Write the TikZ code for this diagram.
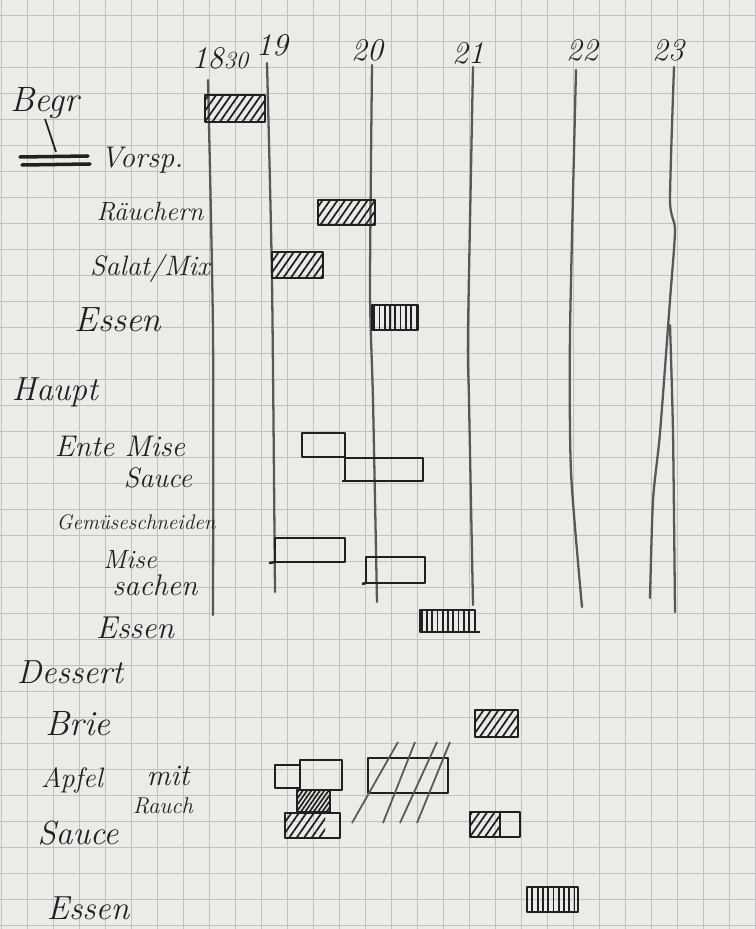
\documentclass[tikz,border=0pt]{standalone}
\usepackage{fontspec}
\usetikzlibrary{patterns.meta}

\definecolor{paper}{RGB}{236,235,232}
\definecolor{gridgray}{RGB}{192,192,190}
\definecolor{pencil}{RGB}{88,88,88}
\definecolor{ink}{RGB}{32,32,32}

\tikzset{
  hand/.style={font=\itshape\fontsize{#1}{#1}\selectfont, text=ink, inner sep=0pt},
  hand/.default=17,
  timeline/.style={draw=pencil, line width=1.3pt, line cap=round, line join=round},
  bar/.style={draw=ink, line width=1.4pt, line join=round},
  hatched/.style={bar, pattern={Lines[angle=55,distance=3.5pt,line width=1pt]}, pattern color=ink},
  combed/.style={bar, pattern={Lines[angle=90,distance=3pt,line width=1pt]}, pattern color=ink},
}

\begin{document}
\begin{tikzpicture}[x=0.02cm, y=-0.02cm]
  \fill[paper] (0,0) rectangle (755,929);
  \useasboundingbox (0,0) rectangle (755,929);

  % squared paper
  \foreach \gx in {1,27,...,755}
    {\draw[gridgray, line width=0.5pt] (\gx,0) -- (\gx,929);}
  \foreach \gy in {15,41,...,929}
    {\draw[gridgray, line width=0.5pt] (0,\gy) -- (755,\gy);}

  % hours
  \node[hand=18] (h1830) at (220,58) {18{\fontsize{14}{14}\selectfont 30}};
  \node[hand=18] (h19) at (272,45) {19};
  \node[hand=18] (h20) at (367,50) {20};
  \node[hand=18] (h21) at (468,53) {21};
  \node[hand=18] (h22) at (582,50) {22};
  \node[hand=18] (h23) at (668,50) {23};

  \draw[timeline] plot[smooth, tension=0.4] coordinates {(208,80) (213,333) (213,615)};
  \draw[timeline] plot[smooth, tension=0.4] coordinates {(267,63) (272,280) (275,592)};
  \draw[timeline] plot[smooth, tension=0.4] coordinates {(372,65) (370,290) (373,400) (377,602)};
  \draw[timeline] plot[smooth, tension=0.4] coordinates {(473,67) (468,333) (469,400) (473,605)};
  \draw[timeline] plot[smooth, tension=0.4] coordinates {(576,70) (570,333) (571,472) (582,607)};
  \draw[timeline] plot[smooth, tension=0.4] coordinates {(674,67) (670,200) (675,230) (670,300) (660,433) (653,500) (650,598)};
  \draw[timeline] plot[smooth, tension=0.4] coordinates {(670,325) (673,433) (675,612)};

  % Vorspeise
  \node[hand=20] (begr) at (45,103) {Begr};
  \coordinate (struck) at (56,152);
  \draw[ink, line width=1pt] (begr.south) -- (struck);
  \draw[ink, line width=2pt, line cap=round] (20,157) -- (88,156);
  \draw[ink, line width=2pt, line cap=round] (22,165) -- (90,164);
  \node[hand=17] (vorsp) at (142,160) {Vorsp.};
  \node[hand=15] (raeuchern) at (150,212) {Räuchern};
  \node[hand=16] (salat) at (150,268) {Salat/Mix};
  \node[hand=20] (essen1) at (118,320) {Essen};

  \draw[hatched] (205,95) rectangle (265,122);
  \draw[hatched] (318,200) rectangle (375,225);
  \draw[hatched] (272,252) rectangle (323,278);
  \draw[combed] (372,305) rectangle (418,330);

  % Hauptgang
  \node[hand=19] (haupt) at (55,392) {Haupt};
  \node[hand=17] (ente) at (120,446) {Ente Mise};
  \node[hand=16] (sauce1) at (158,478) {Sauce};
  \node[hand=12] (gemuese) at (136,522) {Gemüseschneiden};
  \node[hand=15] (mise) at (130,560) {Mise};
  \node[hand=17] (sachen) at (155,585) {sachen};
  \node[hand=18] (essen2) at (135,628) {Essen};

  \draw[bar] (302,433) rectangle (345,457);
  \draw[bar] (345,458) rectangle (423,481);
  \draw[bar] (342,481) -- (345,481);
  \draw[bar] (275,538) rectangle (345,562);
  \draw[bar] (269,563) -- (275,562);
  \draw[bar] (366,557) rectangle (425,583);
  \draw[bar] (362,584) -- (366,583);
  \draw[combed] (420,610) rectangle (475,632);
  \draw[bar] (475,632) -- (480,632);

  % Dessert
  \node[hand=19] (dessert) at (70,672) {Dessert};
  \node[hand=20] (brie) at (78,724) {Brie};
  \node[hand=16] (apfel) at (72,780) {Apfel};
  \node[hand=17] (mit) at (168,776) {mit};
  \node[hand=13] (rauch) at (163,806) {Rauch};
  \node[hand=19] (sauce2) at (78,833) {Sauce};
  \node[hand=19] (essen3) at (88,908) {Essen};

  \draw[hatched] (475,710) rectangle (518,737);
  \draw[bar] (275,765) rectangle (300,788);
  \draw[bar] (300,760) rectangle (342,790);
  \draw[bar, pattern={Lines[angle=55,distance=2pt,line width=1pt]}, pattern color=ink] (297,790) rectangle (330,812);
  \draw[hatched, draw=none] (286,814) rectangle (325,837);
  \draw[bar] (285,813) rectangle (340,838);
  \draw[bar] (368,758) rectangle (448,793);
  \foreach \sx/\ex in {352/398, 383/415, 400/437, 417/450}
    {\draw[pencil, line width=1pt] (\sx,823) -- (\ex,742);}
  \draw[hatched, draw=none] (471,813) rectangle (500,836);
  \draw[bar] (470,812) rectangle (520,837);
  \draw[bar] (500,812) -- (500,837);
  \draw[combed] (527,887) rectangle (578,912);
\end{tikzpicture}
\end{document}
